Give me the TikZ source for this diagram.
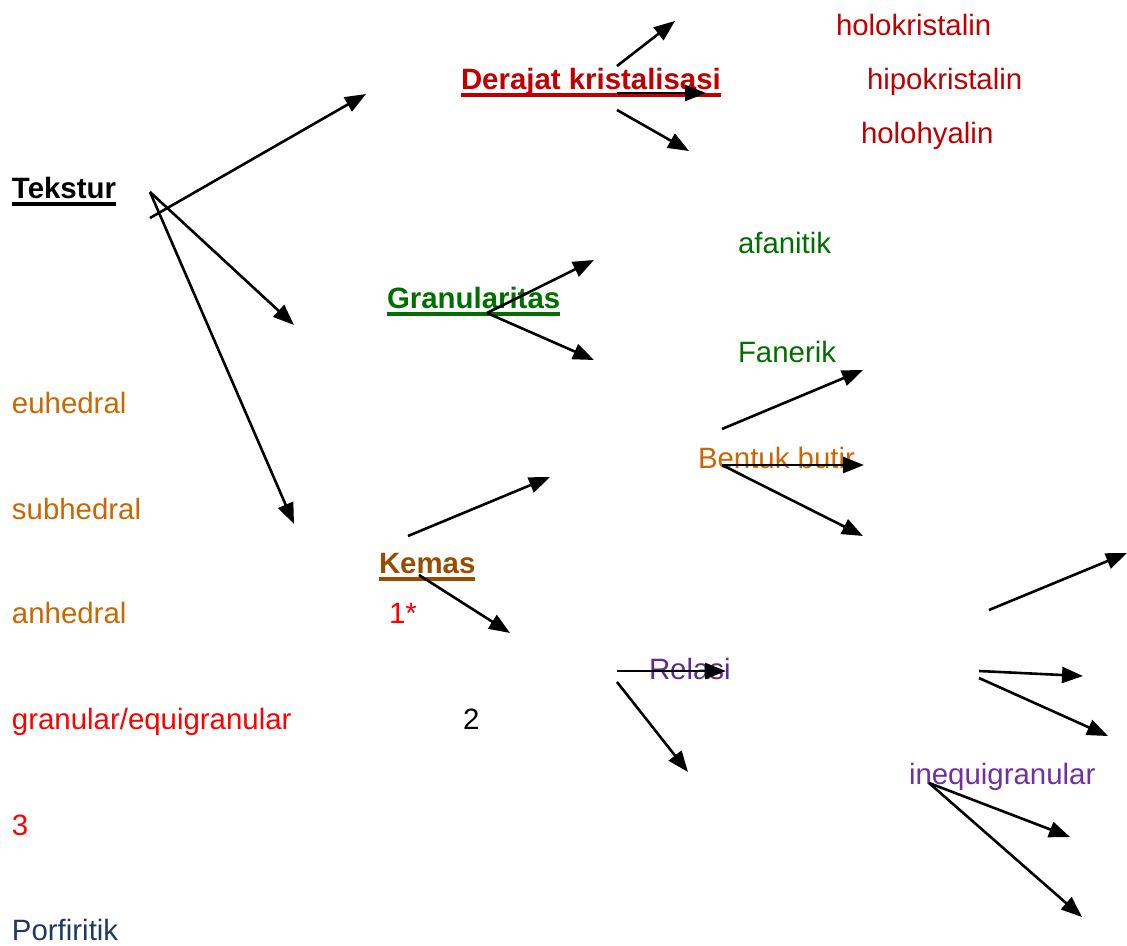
\documentclass[tikz,border=0pt]{standalone}
\usepackage{fontspec}
\setmainfont{Liberation Sans}
\usetikzlibrary{arrows.meta}
\definecolor{dred}{HTML}{C00000}
\definecolor{bred}{HTML}{FF0000}
\definecolor{dgreen}{HTML}{006F00}
\definecolor{orng}{HTML}{CC6600}
\definecolor{brwn}{HTML}{994C00}
\definecolor{purp}{HTML}{5F2A8A}
\definecolor{purpl}{HTML}{7030A0}
\definecolor{navy}{HTML}{1F3864}
\tikzset{
  lbl/.style={anchor=base west, inner sep=0pt, outer sep=0pt, font=\fontsize{29.4}{34}\selectfont},
  head/.style={lbl, font=\fontsize{29.4}{34}\selectfont\bfseries},
  arr/.style={line width=2.6pt, -{Triangle[length=21pt,width=16pt]}},
  ul/.style={line width=3.2pt}
}
\begin{document}
\begin{tikzpicture}[x=1pt,y=-1pt]
\useasboundingbox (0,0) rectangle (1127,945);
% labels
\node[lbl, text=dred] (holok) at (836,35) {holokristalin};
\node[head, text=dred] (deraj) at (461,89) {Derajat kristalisasi};
\node[lbl, text=dred] (hipok) at (867,89) {hipokristalin};
\node[lbl, text=dred] (holoh) at (861,143) {holohyalin};
\node[head] (tekst) at (12,198) {Tekstur};
\node[lbl, text=dgreen] (afan) at (738,253) {afanitik};
\node[head, text=dgreen] (gran) at (387,308) {Granularitas};
\node[lbl, text=dgreen] (fan) at (738,362) {Fanerik};
\node[lbl, text=orng] (euh) at (12,413) {euhedral};
\node[lbl, text=orng] (bent) at (698,468) {Bentuk butir};
\node[lbl, text=orng] (subh) at (12,519) {subhedral};
\node[head, text=brwn] (kemas) at (379,573) {Kemas};
\node[lbl, text=orng] (anh) at (12,623) {anhedral};
\node[lbl, text=bred] (one) at (389,623) {1*};
\node[lbl, text=purp] (rel) at (649,679) {Relasi};
\node[lbl, text=bred] (equi) at (12,729) {granular/equigranular};
\node[lbl] (two) at (463,729) {2};
\node[lbl, text=purpl] (inequi) at (909,784) {inequigranular};
\node[lbl, text=bred] (three) at (12,835) {3};
\node[lbl, text=navy] (porf) at (12,940) {Porfiritik};
% underlines
\draw[ul, dred] ([yshift=-6pt]deraj.base west) -- ([yshift=-6pt]deraj.base east);
\draw[ul, black] ([yshift=-6pt]tekst.base west) -- ([yshift=-6pt]tekst.base east);
\draw[ul, dgreen] ([yshift=-6pt]gran.base west) -- ([yshift=-6pt]gran.base east);
\draw[ul, brwn] ([yshift=-6pt]kemas.base west) -- ([yshift=-6pt]kemas.base east);
% arrow end points
\coordinate (t1) at (150,218); \coordinate (t2) at (150,192);
\coordinate (e1) at (366,94); \coordinate (e2) at (294,325); \coordinate (e3) at (294,524);
\coordinate (d1) at (617,66); \coordinate (d2) at (617,93); \coordinate (d3) at (617,110);
\coordinate (f1) at (675,21); \coordinate (f2) at (706,93); \coordinate (f3) at (689,151);
\coordinate (g0) at (487,313); \coordinate (g1) at (594,260); \coordinate (g2) at (594,360);
\coordinate (b1) at (722,429); \coordinate (b2) at (722,465);
\coordinate (h1) at (863,370); \coordinate (h2) at (864,465); \coordinate (h3) at (863,536);
\coordinate (k1) at (408,536); \coordinate (k2) at (419,575);
\coordinate (m1) at (550,477); \coordinate (m2) at (510,633);
\coordinate (r1) at (617,671); \coordinate (r2) at (617,682);
\coordinate (s1) at (726,671); \coordinate (s2) at (688,772);
\coordinate (q1) at (989,610); \coordinate (q2) at (979,671); \coordinate (q3) at (979,678);
\coordinate (p1) at (1127,553); \coordinate (p2) at (1083,676); \coordinate (p3) at (1108,736);
\coordinate (i0) at (929,783); \coordinate (j1) at (1070,837); \coordinate (j2) at (1082,917);
% arrows
\draw[arr] (t1) -- (e1);
\draw[arr] (t2) -- (e2);
\draw[arr] (t2) -- (e3);
\draw[arr] (d1) -- (f1);
\draw[arr] (d2) -- (f2);
\draw[arr] (d3) -- (f3);
\draw[arr] (g0) -- (g1);
\draw[arr] (g0) -- (g2);
\draw[arr] (b1) -- (h1);
\draw[arr] (b2) -- (h2);
\draw[arr] (b2) -- (h3);
\draw[arr] (k1) -- (m1);
\draw[arr] (k2) -- (m2);
\draw[arr] (r1) -- (s1);
\draw[arr] (r2) -- (s2);
\draw[arr] (q1) -- (p1);
\draw[arr] (q2) -- (p2);
\draw[arr] (q3) -- (p3);
\draw[arr] (i0) -- (j1);
\draw[arr] (i0) -- (j2);
\end{tikzpicture}
\end{document}
